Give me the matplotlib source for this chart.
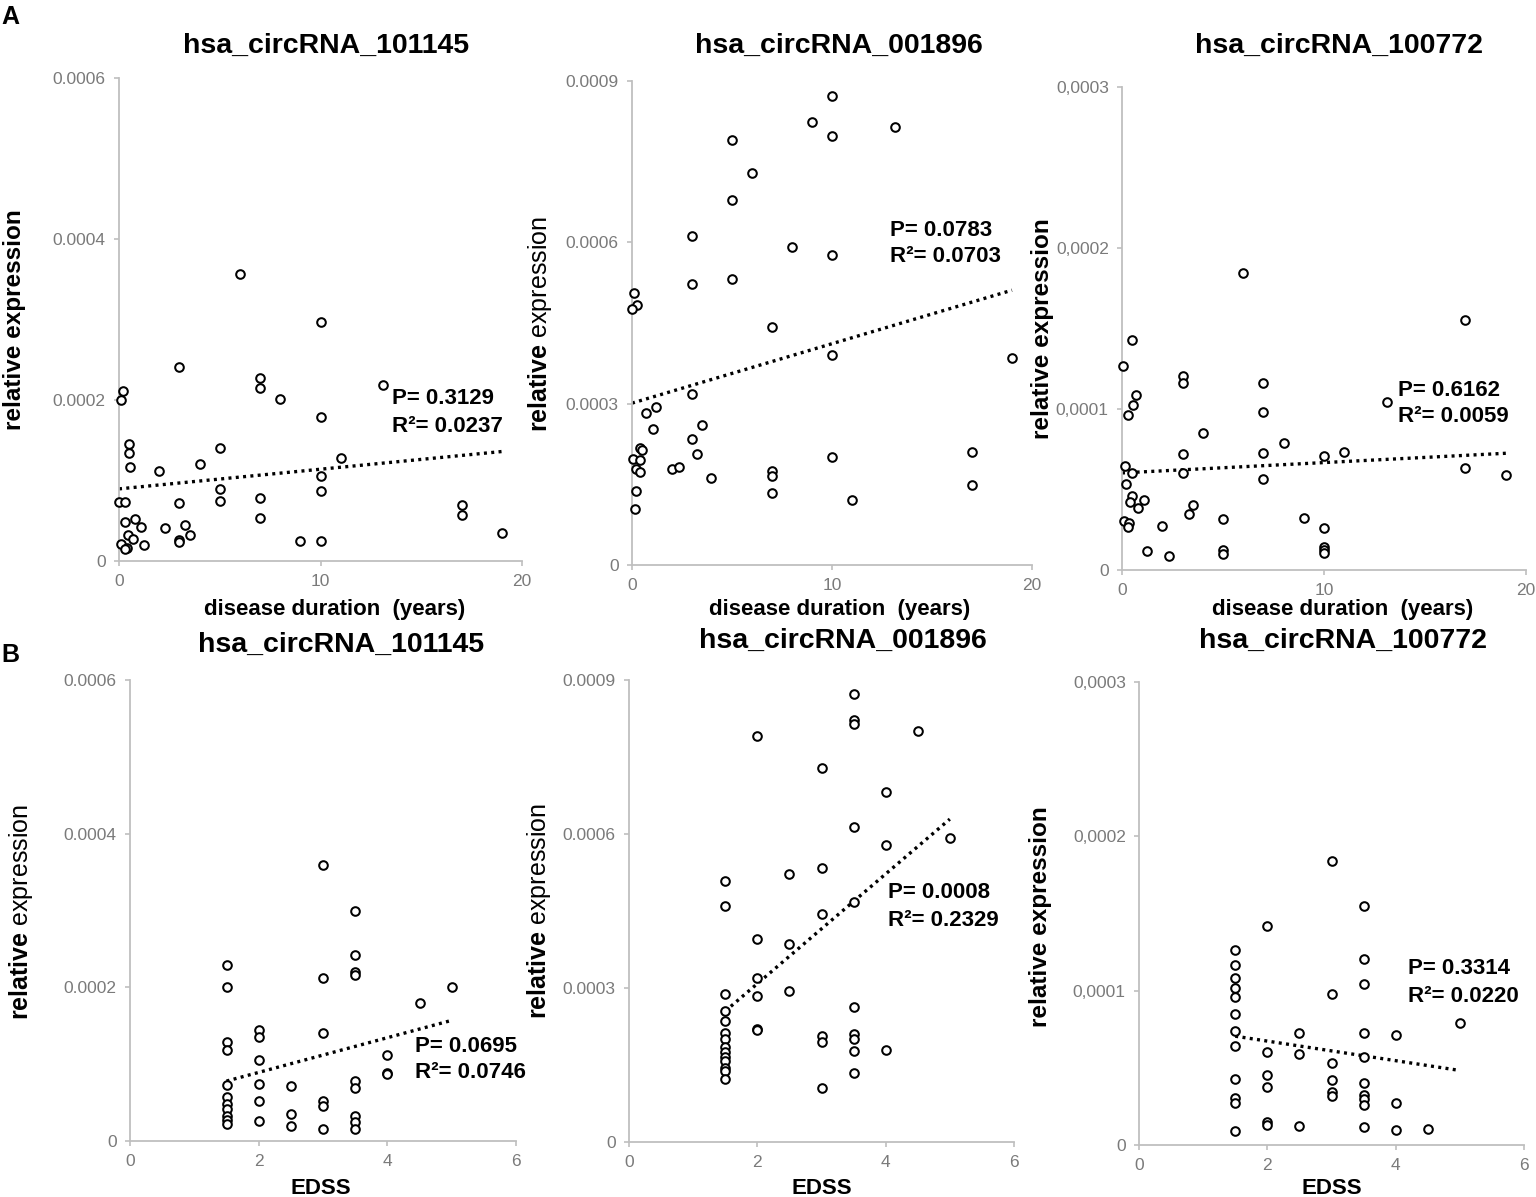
import matplotlib
matplotlib.use("Agg")
import matplotlib.pyplot as plt

plt.rcParams["font.family"] = ["Liberation Sans", "DejaVu Sans"]
plt.rcParams["mathtext.fontset"] = "custom"
plt.rcParams["mathtext.rm"] = "Liberation Sans"
plt.rcParams["mathtext.bf"] = "Liberation Sans:bold"

# ==========================================
# DATA
# ==========================================

# --- A: disease duration (years) ---
dur_101145 = [6.0, 10, 3, 7, 7, 8, 13.1, 0.2, 0.1, 10, 0.5, 0.5, 0.55, 2, 4, 5, 11, 10,
              5, 10, 5, 7, 0, 0.3, 3, 7, 17, 17, 19, 0.3, 0.8, 1.1, 2.3, 3.3, 3.5, 0.45,
              0.7, 0.1, 1.25, 3, 3, 0.4, 0.3, 9, 10]
expr_dur_101145 = [0.000357, 0.000297, 0.000241, 0.000227, 0.000215, 0.000201, 0.000219,
                   0.000211, 0.000200, 0.000179, 0.000145, 0.000134, 0.000117, 0.000112,
                   0.000120, 0.000140, 0.000128, 0.000106, 0.0000896, 0.0000865, 0.000075,
                   0.0000777, 0.0000737, 0.0000737, 0.0000715, 0.0000534, 0.0000693,
                   0.000057, 0.0000353, 0.0000486, 0.0000525, 0.0000424, 0.000041,
                   0.000045, 0.0000327, 0.0000327, 0.0000278, 0.0000212, 0.0000203,
                   0.0000265, 0.0000234, 0.0000159, 0.000015, 0.0000243, 0.0000243]

dur_001896 = [10, 9, 10, 13.15, 5, 6, 5, 3, 8, 10, 3, 5, 0.1, 0.25, 0, 7, 10, 19, 3, 0.7,
              1.2, 1.05, 3.5, 3, 3.25, 0.42, 0.48, 0.05, 0.42, 0.18, 0.42, 2, 2.35, 3.95,
              7, 7, 7, 10, 11, 17, 17, 0.18, 0.13]
expr_dur_001896 = [0.000872, 0.000823, 0.000798, 0.000814, 0.000790, 0.000728, 0.000679,
                   0.000611, 0.000591, 0.000577, 0.000522, 0.000531, 0.000506, 0.000484,
                   0.000476, 0.000442, 0.000391, 0.000384, 0.000318, 0.000283, 0.000294,
                   0.000253, 0.000261, 0.000235, 0.000206, 0.000218, 0.000213, 0.000198,
                   0.000195, 0.000178, 0.000173, 0.000178, 0.000182, 0.000162, 0.000175,
                   0.000166, 0.000133, 0.000200, 0.000120, 0.000210, 0.000148, 0.000138,
                   0.000104]

dur_100772 = [6, 17, 0.5, 0.05, 3, 3, 7, 0.7, 0.55, 0.3, 7, 13.1, 4, 8, 11, 3, 7, 10, 0.13,
              0.5, 3, 7, 17, 19, 0.2, 0.5, 0.4, 1.1, 0.8, 3.5, 3.3, 0.1, 0.33, 0.28, 5, 9,
              2, 10, 1.25, 2.35, 5, 5, 10, 10, 10]
expr_dur_100772 = [0.0001847, 0.0001552, 0.0001426, 0.0001266, 0.0001204, 0.0001164,
                   0.0001164, 0.0001084, 0.0001024, 0.0000965, 0.0000982, 0.0001042,
                   0.0000849, 0.0000789, 0.0000734, 0.000072, 0.0000727, 0.000071,
                   0.0000647, 0.0000605, 0.0000605, 0.0000568, 0.0000634, 0.0000592,
                   0.0000537, 0.0000457, 0.0000421, 0.0000432, 0.0000384, 0.0000404,
                   0.0000346, 0.0000306, 0.0000295, 0.000027, 0.0000319, 0.0000324,
                   0.0000273, 0.0000262, 0.0000118, 0.0000089, 0.0000126, 0.00001,
                   0.0000144, 0.0000124, 0.0000104]

# --- B: EDSS ---
edss_101145 = [3, 3.5, 3.5, 3.5, 3.5, 3, 1.5, 1.5, 5, 4.5, 3, 2, 2, 1.5, 1.5, 4, 2, 4, 4,
               2, 1.5, 2.5, 3.5, 3.5, 1.5, 2, 3, 3, 1.5, 1.5, 1.5, 1.5, 1.5, 2.5, 2, 2.5,
               3, 3.5, 3.5, 3.5]
expr_edss_101145 = [0.000359, 0.000299, 0.000242, 0.000220, 0.000216, 0.000212, 0.000229,
                    0.000200, 0.000201, 0.000180, 0.000141, 0.000145, 0.000135, 0.000129,
                    0.000118, 0.000112, 0.000106, 0.0000891, 0.0000869, 0.0000748,
                    0.0000735, 0.0000713, 0.000078, 0.000069, 0.0000575, 0.0000521,
                    0.0000526, 0.0000454, 0.0000486, 0.000041, 0.0000321, 0.0000267,
                    0.0000218, 0.0000352, 0.0000258, 0.0000196, 0.0000156, 0.0000325,
                    0.0000245, 0.0000156]

edss_001896 = [3.5, 3.5, 3.5, 4.5, 2, 3, 4, 3.5, 5, 4, 3, 2.5, 1.5, 1.5, 3.5, 3, 2, 2.5,
               2, 2, 1.5, 2.5, 3.5, 1.5, 1.5, 2, 2, 1.5, 3, 3, 3.5, 3.5, 3.5, 4, 1.5, 1.5,
               1.5, 1.5, 1.5, 1.5, 1.5, 1.5, 3.5, 3]
expr_edss_001896 = [0.000873, 0.000823, 0.000815, 0.000800, 0.000791, 0.000729, 0.000681,
                    0.000613, 0.000593, 0.000579, 0.000533, 0.000523, 0.000508, 0.000459,
                    0.000467, 0.000445, 0.000395, 0.000385, 0.000320, 0.000285, 0.000288,
                    0.000295, 0.000263, 0.000255, 0.000236, 0.000221, 0.000219, 0.000213,
                    0.000207, 0.000195, 0.000211, 0.000201, 0.000177, 0.000179, 0.000200,
                    0.000185, 0.000175, 0.000165, 0.000158, 0.000145, 0.000138, 0.000123,
                    0.000135, 0.000105]

edss_100772 = [3, 3.5, 2, 1.5, 1.5, 1.5, 1.5, 1.5, 1.5, 1.5, 1.5, 3.5, 3.5, 3, 5, 2.5,
               3.5, 4, 2, 2.5, 3.5, 3, 1.5, 2, 2, 3, 3.5, 3, 3, 1.5, 1.5, 3.5, 3.5, 3.5, 4,
               1.5, 2, 2, 2.5, 3.5, 4, 4.5]
expr_edss_100772 = [0.0001843, 0.0001548, 0.0001421, 0.0001262, 0.0001164, 0.0001082,
                    0.000102, 0.0000958, 0.0000847, 0.0000736, 0.0000643, 0.0001202,
                    0.0001042, 0.000098, 0.0000792, 0.0000723, 0.0000727, 0.000071,
                    0.0000605, 0.000059, 0.0000568, 0.0000532, 0.000043, 0.0000455,
                    0.0000379, 0.0000421, 0.0000404, 0.0000346, 0.0000315, 0.0000306,
                    0.0000275, 0.0000324, 0.0000295, 0.0000259, 0.000027, 0.0000089,
                    0.0000146, 0.0000129, 0.000012, 0.0000115, 0.00001, 0.0000104]

# trend lines (end points as drawn)
trend_dur_x = [0, 19]
trend_dur_101145 = [0.0000896, 0.000136]
trend_dur_001896 = [0.000301, 0.000511]
trend_dur_100772 = [0.0000603, 0.0000725]
trend_edss_x = [1.5, 5]
trend_edss_101145 = [0.000078, 0.000157]
trend_edss_001896 = [0.000255, 0.000629]
trend_edss_100772 = [0.0000705, 0.0000483]

# statistics text
stats_p = ["0.3129", "0.0783", "0.6162", "0.0695", "0.0008", "0.3314"]
stats_r2 = ["0.0237", "0.0703", "0.0059", "0.0746", "0.2329", "0.0220"]

titles = ["hsa_circRNA_101145", "hsa_circRNA_001896", "hsa_circRNA_100772"]

yticks_101145 = [0, 0.0002, 0.0004, 0.0006]
ylabels_101145 = ["0", "0.0002", "0.0004", "0.0006"]
yticks_001896 = [0, 0.0003, 0.0006, 0.0009]
ylabels_001896 = ["0", "0.0003", "0.0006", "0.0009"]
yticks_100772 = [0, 0.0001, 0.0002, 0.0003]
ylabels_100772 = ["0", "0,0001", "0,0002", "0,0003"]

xticks_dur = [0, 10, 20]
xticks_edss = [0, 2, 4, 6]

# ==========================================
# LAYOUT (pixels)
# ==========================================

W, H = 1536, 1197
fig = plt.figure(figsize=(W / 100, H / 100), dpi=100)

AXIS_GREY = "#bfbfbf"
TICK_TEXT = "#7a7a7a"


def fx(x):
    return x / W


def fy(y):
    return 1 - y / H


def make_axes(x0, x1, ytop, ybot):
    return fig.add_axes([fx(x0), fy(ybot), (x1 - x0) / W, (ybot - ytop) / H])


def draw_panel(ax, xs, ys, tx, ty, xlim, xticks, yticks, ylabels):
    ax.plot(xs, ys, linestyle="none", marker="o", markersize=6.2,
            markerfacecolor="white", markeredgecolor="black",
            markeredgewidth=1.45, clip_on=False, zorder=3)
    ax.plot(tx, ty, color="black", linestyle=(0, (0.9, 1.3)), linewidth=2.4,
            zorder=2)
    ax.set_xlim(*xlim)
    ax.set_ylim(yticks[0], yticks[-1])
    ax.set_xticks(xticks)
    ax.set_xticklabels([str(t) for t in xticks])
    ax.set_yticks(yticks)
    ax.set_yticklabels(ylabels)
    for side in ["top", "right"]:
        ax.spines[side].set_visible(False)
    for side in ["left", "bottom"]:
        ax.spines[side].set_color(AXIS_GREY)
        ax.spines[side].set_linewidth(1.3)
    ax.tick_params(direction="out", length=3.5, width=1.2, color=AXIS_GREY,
                   labelcolor=TICK_TEXT, labelsize=12.5, pad=6)
    ax.patch.set_alpha(0)


panels = [
    # axes box, x data, y data, trend x, trend y, xlim, xticks, yticks, ylabels
    ((119, 522, 78, 561), dur_101145, expr_dur_101145, trend_dur_x, trend_dur_101145,
     (0, 20), xticks_dur, yticks_101145, ylabels_101145),
    ((632, 1032, 81, 565), dur_001896, expr_dur_001896, trend_dur_x, trend_dur_001896,
     (0, 20), xticks_dur, yticks_001896, ylabels_001896),
    ((1122, 1526, 87, 570), dur_100772, expr_dur_100772, trend_dur_x, trend_dur_100772,
     (0, 20), xticks_dur, yticks_100772, ylabels_100772),
    ((130, 516, 680, 1141), edss_101145, expr_edss_101145, trend_edss_x, trend_edss_101145,
     (0, 6), xticks_edss, yticks_101145, ylabels_101145),
    ((629, 1014, 680, 1142), edss_001896, expr_edss_001896, trend_edss_x, trend_edss_001896,
     (0, 6), xticks_edss, yticks_001896, ylabels_001896),
    ((1139, 1524, 682, 1145), edss_100772, expr_edss_100772, trend_edss_x, trend_edss_100772,
     (0, 6), xticks_edss, yticks_100772, ylabels_100772),
]

for box, xs, ys, tx, ty, xlim, xt, yt, yl in panels:
    ax = make_axes(*box)
    draw_panel(ax, xs, ys, tx, ty, xlim, xt, yt, yl)

# titles
title_pos = [(326, 46), (839, 46), (1339, 46), (341, 645), (843, 641), (1343, 641)]
for i, (x, y) in enumerate(title_pos):
    fig.text(fx(x), fy(y), titles[i % 3], fontsize=20.5, fontweight="bold",
             ha="center", va="center")

# y labels (some panels: "relative" bold, "expression" regular)
ylab_pos = [(15, 320, True), (540, 324, False), (1042, 329, True),
            (21, 912, False), (539, 911, False), (1041, 917, True)]
for x, y, all_bold in ylab_pos:
    if all_bold:
        fig.text(fx(x), fy(y), "relative expression", rotation=90, fontsize=17.5,
                 fontweight="bold", ha="center", va="center")
    else:
        fig.text(fx(x), fy(y), r"$\bf{relative}$ expression", rotation=90,
                 fontsize=18, ha="center", va="center")

# x labels
xlab_pos = [(335, 609), (840, 609), (1343, 609)]
for x, y in xlab_pos:
    fig.text(fx(x), fy(y), "disease duration  (years)", fontsize=16,
             fontweight="bold", ha="center", va="center")
edss_pos = [(321, 1188), (822, 1188), (1332, 1188)]
for x, y in edss_pos:
    fig.text(fx(x), fy(y), "EDSS", fontsize=16, fontweight="bold",
             ha="center", va="center")

# P / R2 annotations
stat_pos = [(392, 399), (890, 230), (1398, 390), (415, 1046), (888, 893), (1408, 969)]
for (x, y), p, r2 in zip(stat_pos, stats_p, stats_r2):
    fig.text(fx(x), fy(y), "P= " + p, fontsize=16, fontweight="bold",
             ha="left", va="center")
    fig.text(fx(x), fy(y + 27), "R\u00b2= " + r2, fontsize=16, fontweight="bold",
             ha="left", va="center")

# panel letters
fig.text(fx(10), fy(17), "A", fontsize=18, fontweight="bold", ha="center", va="center")
fig.text(fx(10), fy(655), "B", fontsize=18, fontweight="bold", ha="center", va="center")

fig.savefig("out.png", dpi=100, facecolor="white")
